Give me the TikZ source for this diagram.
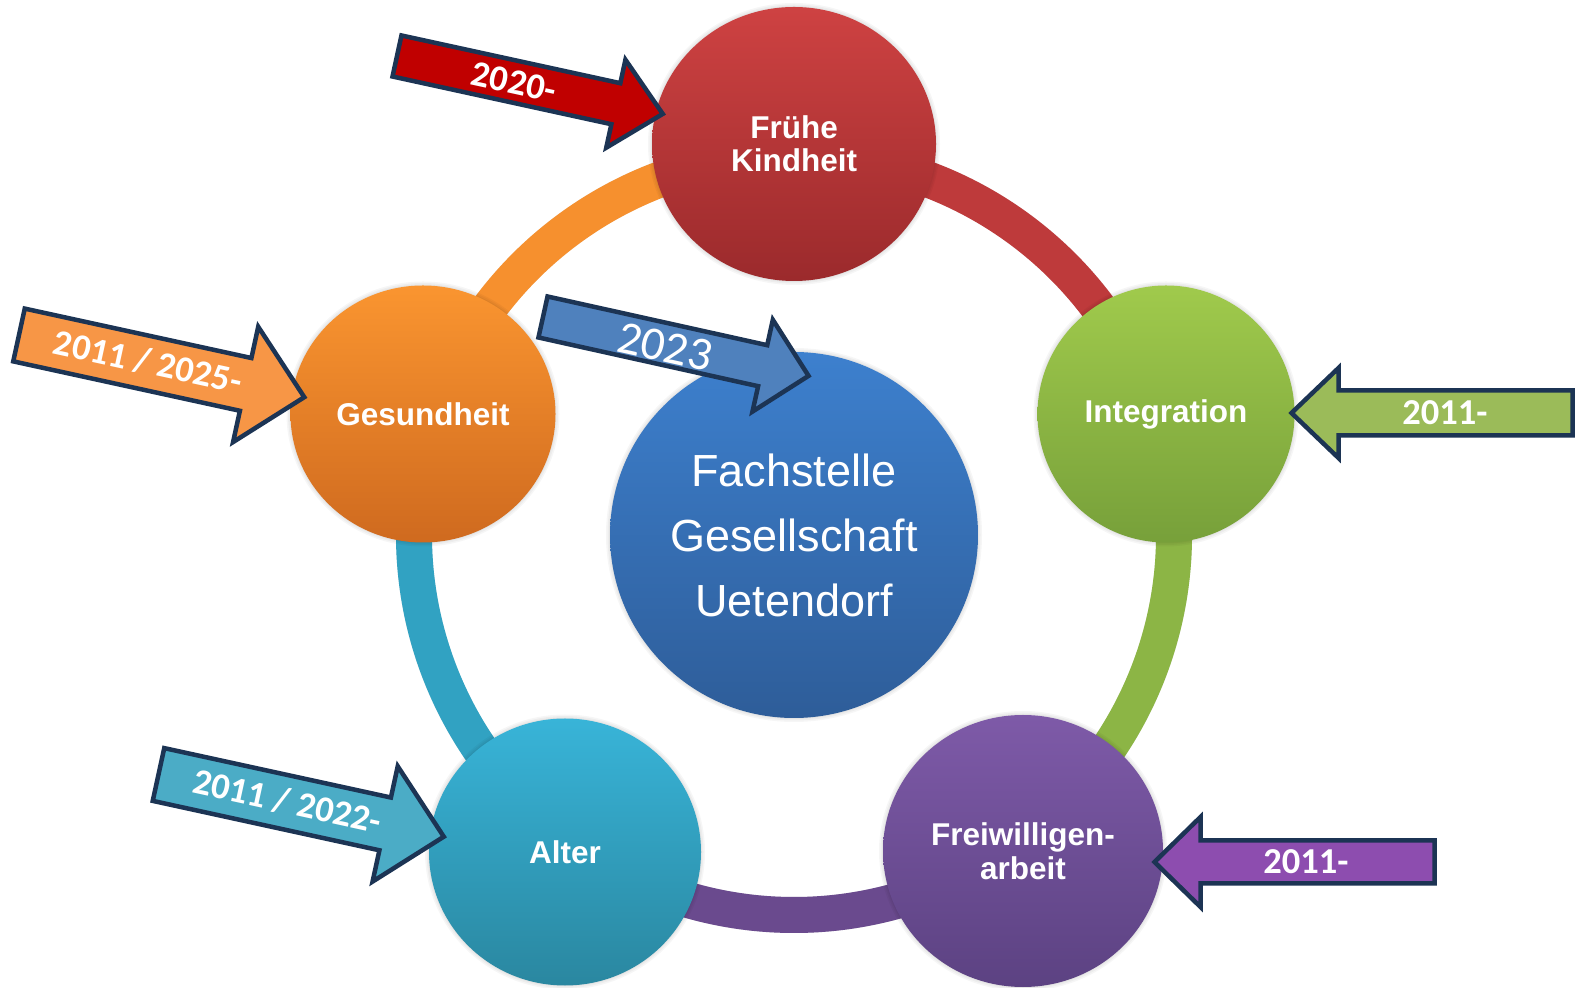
\documentclass[tikz,border=0pt]{standalone}
\usepackage{fontspec}
\newfontfamily\arialf{Liberation Sans}
\newfontfamily\calf{Carlito}
\usetikzlibrary{shapes.geometric}
\pgfdeclarelayer{background}
\pgfdeclarelayer{shadowlayer}
\pgfsetlayers{background,shadowlayer,main}
\definecolor{navyline}{HTML}{1C3454}
\definecolor{redTop}{HTML}{CE4242}
\definecolor{redBot}{HTML}{9B2A2C}
\definecolor{grnTop}{HTML}{A0CA4C}
\definecolor{grnBot}{HTML}{77A03A}
\definecolor{purTop}{HTML}{7E5AA8}
\definecolor{purBot}{HTML}{5C4282}
\definecolor{tealTop}{HTML}{38B4D8}
\definecolor{tealBot}{HTML}{2A87A0}
\definecolor{orgTop}{HTML}{FA9530}
\definecolor{orgBot}{HTML}{CF6A1F}
\definecolor{bluTop}{HTML}{3D80CE}
\definecolor{bluBot}{HTML}{2E5D99}
\definecolor{ringRed}{HTML}{BE3A3B}
\definecolor{ringGrn}{HTML}{8CB545}
\definecolor{ringPur}{HTML}{6A4A8E}
\definecolor{ringTeal}{HTML}{31A2C2}
\definecolor{ringOrg}{HTML}{F6902E}
\definecolor{arrRed}{HTML}{C00000}
\definecolor{arrOrg}{HTML}{F79646}
\definecolor{arrBlu}{HTML}{4F81BD}
\definecolor{arrTeal}{HTML}{4BACC6}
\definecolor{arrGrn}{HTML}{9BBB59}
\definecolor{arrPur}{HTML}{8D4DAF}
\newcommand\blockarrow[7]{%
  \begin{scope}[shift={#1}, rotate=#2]
    \draw[arrowline, fill=#7] (0,#4) -- ({#3-#6},#4) -- ({#3-#6},#5) -- (#3,0)
      -- ({#3-#6},-#5) -- ({#3-#6},-#4) -- (0,-#4) -- cycle;
  \end{scope}}
\newcommand\softshadow[3]{%
  \foreach \k in {0,...,7}{%
    \fill[black, opacity=0.035, shift={(0,-5)}] (#1.center) ellipse[x radius={#2+4-1.5*\k}, y radius={#3+4-1.5*\k}];}}
\begin{document}
\begin{tikzpicture}[x=1pt,y=1pt,
  bubble/.style={ellipse, inner sep=0pt, text=white, align=center,
    font=\arialf\bfseries\fontsize{31.5}{33.5}\selectfont},
  ringseg/.style={line width=36pt},
  arrowline/.style={draw=navyline, line width=4.5pt, line join=miter},
  arrowtext/.style={text=white, inner sep=0pt, font=\calf\bfseries\fontsize{36.5}{36.5}\selectfont}]
\useasboundingbox (0,0) rectangle (1578,987);

% circles
\node[bubble, minimum width=284pt, minimum height=274pt, top color=redTop, bottom color=redBot] (fruehe) at (794,843) {Frühe\\Kindheit};
\node[bubble, minimum width=257pt, minimum height=257pt, top color=grnTop, bottom color=grnBot] (integ) at (1166,573) {Integration};
\node[bubble, minimum width=280pt, minimum height=272pt, top color=purTop, bottom color=purBot] (freiw) at (1023,136) {Freiwilligen-\\arbeit};
\node[bubble, minimum width=272pt, minimum height=267pt, top color=tealTop, bottom color=tealBot] (alter) at (565,135) {Alter};
\node[bubble, minimum width=265pt, minimum height=257pt, top color=orgTop, bottom color=orgBot] (gesund) at (423,573) {Gesundheit};
\node[bubble, minimum width=368pt, minimum height=366pt, top color=bluTop, bottom color=bluBot,
  font=\arialf\fontsize{45}{65}\selectfont] (fach) at (794,452) {Fachstelle\\Gesellschaft\\Uetendorf};
\coordinate (ringc) at (794,452);

% ring and shadows
\begin{pgfonlayer}{background}
  \fill[white] (0,0) rectangle (1578,987);
  \draw[ringseg, black, opacity=0.10, shift={(0,-5)}] ([shift={(90:380)}]ringc) arc[start angle=90, end angle=-270, radius=380pt];
  \draw[ringseg, ringRed] ([shift={(90:380)}]ringc) arc[start angle=90, end angle=18, radius=380pt];
  \draw[ringseg, ringGrn] ([shift={(18:380)}]ringc) arc[start angle=18, end angle=-54, radius=380pt];
  \draw[ringseg, ringPur] ([shift={(-54:380)}]ringc) arc[start angle=-54, end angle=-126, radius=380pt];
  \draw[ringseg, ringTeal] ([shift={(-126:380)}]ringc) arc[start angle=-126, end angle=-198, radius=380pt];
  \draw[ringseg, ringOrg] ([shift={(162:380)}]ringc) arc[start angle=162, end angle=90, radius=380pt];
\end{pgfonlayer}
\begin{pgfonlayer}{shadowlayer}
  \softshadow{fruehe}{142}{137}
  \softshadow{integ}{128.5}{128.5}
  \softshadow{freiw}{140}{136}
  \softshadow{alter}{136}{133.5}
  \softshadow{gesund}{132.5}{128.5}
  \softshadow{fach}{184}{183}
\end{pgfonlayer}

% arrows
\blockarrow{(397,931)}{-12.3}{272}{21}{45}{48}{arrRed}
\node[arrowtext, rotate=-12.3] (t2020) at (514,905) {2020-};

\blockarrow{(19,652)}{-12.3}{292}{27}{59}{60}{arrOrg}
\node[arrowtext, rotate=-12.3] (t2025) at (148,625) {2011 / 2025-};

\blockarrow{(543,670)}{-12.5}{272}{21}{47}{47}{arrBlu}
\node[text=white, inner sep=0pt, rotate=-12.5, font=\calf\fontsize{47}{47}\selectfont] (t2023) at (665,640) {2023};

\blockarrow{(158.5,212.5)}{-12.3}{292}{27}{59}{60}{arrTeal}
\node[arrowtext, rotate=-12.3] (t2022) at (287.5,185.5) {2011 / 2022-};

\blockarrow{(1572.5,574)}{180}{281}{22.5}{45}{47}{arrGrn}
\node[arrowtext] (tint) at (1445,574) {2011-};

\blockarrow{(1434.5,125)}{180}{280}{21.5}{45}{46}{arrPur}
\node[arrowtext] (tfrei) at (1306,125) {2011-};
\end{tikzpicture}
\end{document}
